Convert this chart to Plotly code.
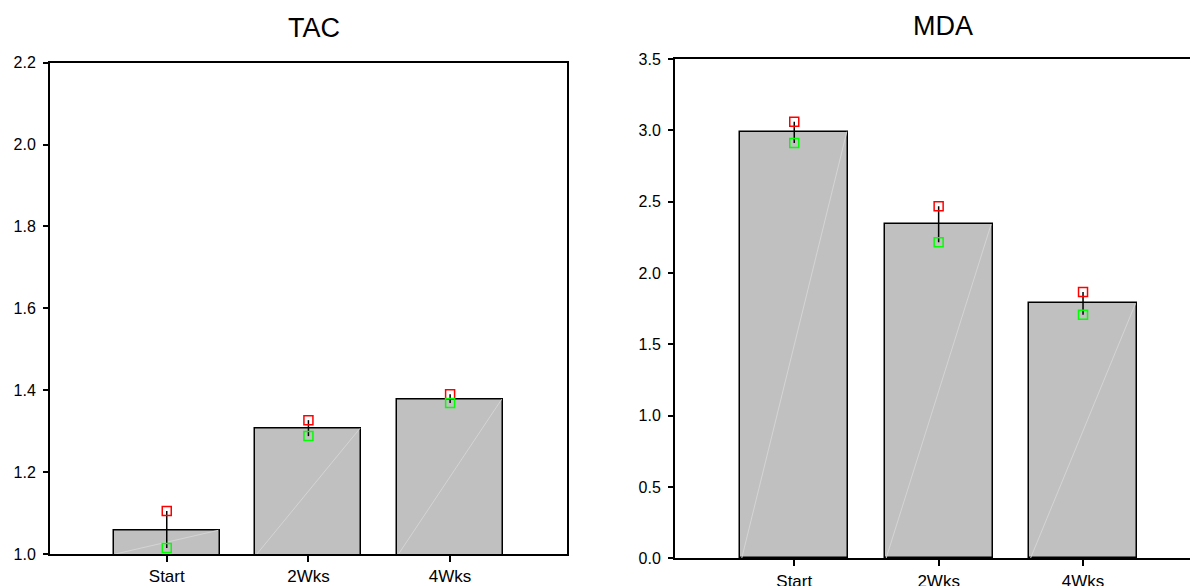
import plotly.graph_objects as go

# ---------------- data ----------------
categories = ["Start", "2Wks", "4Wks"]
cat_pos = [0, 1, 2]

tac_mean = [1.058, 1.307, 1.378]
tac_upper = [1.105, 1.327, 1.390]
tac_lower = [1.015, 1.288, 1.369]

mda_mean = [2.990, 2.342, 1.787]
mda_upper = [3.060, 2.467, 1.866]
mda_lower = [2.911, 2.216, 1.707]

tac_ticks = [1.0, 1.2, 1.4, 1.6, 1.8, 2.0, 2.2]
mda_ticks = [0.0, 0.5, 1.0, 1.5, 2.0, 2.5, 3.0, 3.5]

# ---------------- style ----------------
W, H = 1198, 586
X_OFF = 8        # page offset (horizontal)
Y_OFF = 16       # page offset (vertical)
Y_SPAN = 570     # effective visible height of the figure
FONT = "Liberation Sans, Arial, sans-serif"
BAR_W = 0.748
BAR_FILL = "#C0C0C0"

fig = go.Figure()


def px_x(v):
    return (v - X_OFF) / W


def px_y(v):
    return 1 - (v - Y_OFF) / Y_SPAN


def add_panel(mean, upper, lower, xa, ya, base):
    xref = "x" if xa == 1 else f"x{xa}"
    yref = "y" if ya == 1 else f"y{ya}"
    fig.add_trace(go.Bar(
        x=cat_pos, y=mean, width=BAR_W,
        marker=dict(color=BAR_FILL, line=dict(color="black", width=1.5)),
        xaxis=xref, yaxis=yref, hoverinfo="skip"))
    # faint diagonal highlight inside each bar
    dx, dy = [], []
    for p, m in zip(cat_pos, mean):
        dx += [p - BAR_W / 2 + 0.01, p + BAR_W / 2 - 0.01, None]
        dy += [base, m, None]
    fig.add_trace(go.Scatter(
        x=dx, y=dy, mode="lines", line=dict(color="#d4d4d4", width=1),
        xaxis=xref, yaxis=yref, hoverinfo="skip"))
    # error lines
    ex, ey = [], []
    for p, lo, hi in zip(cat_pos, lower, upper):
        ex += [p, p, None]
        ey += [lo, hi, None]
    fig.add_trace(go.Scatter(
        x=ex, y=ey, mode="lines", line=dict(color="black", width=1.5),
        xaxis=xref, yaxis=yref, hoverinfo="skip"))
    fig.add_trace(go.Scatter(
        x=cat_pos, y=upper, mode="markers",
        marker=dict(symbol="square-open", size=9, color="#FF0000",
                    line=dict(width=1.5, color="#FF0000")),
        xaxis=xref, yaxis=yref, hoverinfo="skip"))
    fig.add_trace(go.Scatter(
        x=cat_pos, y=lower, mode="markers",
        marker=dict(symbol="square-open", size=9, color="#00FF00",
                    line=dict(width=1.5, color="#00FF00")),
        xaxis=xref, yaxis=yref, hoverinfo="skip"))


add_panel(tac_mean, tac_upper, tac_lower, 1, 1, tac_ticks[0])
add_panel(mda_mean, mda_upper, mda_lower, 2, 2, mda_ticks[0])

axis_common = dict(showgrid=False, zeroline=False, showline=True,
                   linecolor="black", linewidth=2, ticks="outside",
                   tickcolor="black", tickwidth=1.5)
xfont = dict(family=FONT, size=17, color="black")
yfont = dict(family=FONT, size=16, color="black")

fig.update_layout(
    width=W, height=H,
    margin=dict(l=0, r=0, t=0, b=0),
    paper_bgcolor="white", plot_bgcolor="white",
    showlegend=False, bargap=0,
    font=dict(family=FONT, color="black"),
    xaxis=dict(domain=[px_x(50), px_x(567)], range=[-0.824, 2.825],
               tickvals=cat_pos, ticktext=categories, ticklen=6,
               tickfont=xfont, mirror=True, anchor="y", **axis_common),
    yaxis=dict(domain=[px_y(555), px_y(62.7)], range=[1.0, 2.2],
               tickvals=tac_ticks, ticktext=[f"{v:.1f}" for v in tac_ticks],
               ticklen=5, ticklabelstandoff=4, tickfont=yfont,
               mirror=True, anchor="x", **axis_common),
    xaxis2=dict(domain=[px_x(675), px_x(1202)], range=[-0.826, 2.824],
                tickvals=cat_pos, ticktext=categories, ticklen=6,
                tickfont=xfont, mirror=True, anchor="y2", **axis_common),
    yaxis2=dict(domain=[px_y(559.3), px_y(59)], range=[0.0, 3.5],
                tickvals=mda_ticks, ticktext=[f"{v:.1f}" for v in mda_ticks],
                ticklen=5, ticklabelstandoff=4, tickfont=yfont,
                mirror=True, anchor="x2", **axis_common),
    annotations=[
        dict(text="TAC", x=px_x(314), y=px_y(28), xref="paper", yref="paper",
             xanchor="center", yanchor="middle", showarrow=False,
             font=dict(family=FONT, size=27, color="black")),
        dict(text="MDA", x=px_x(943), y=px_y(26), xref="paper", yref="paper",
             xanchor="center", yanchor="middle", showarrow=False,
             font=dict(family=FONT, size=27, color="black")),
    ],
)

fig.write_html("out.html")
